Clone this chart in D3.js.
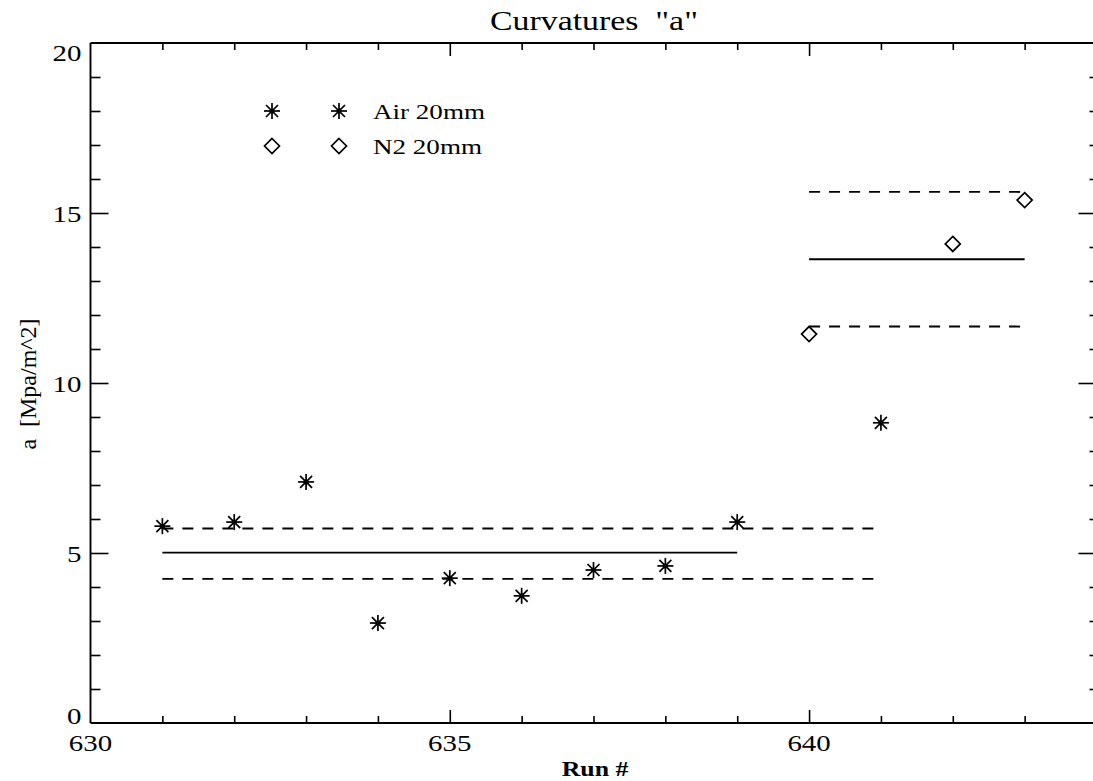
<!DOCTYPE html>
<html>
<head>
<meta charset="utf-8">
<script src="https://cdn.jsdelivr.net/npm/d3@7"></script>
<style>
  html, body { margin: 0; padding: 0; background: #fff; }
  svg { display: block; }
</style>
</head>
<body>
<svg id="chart" width="1093" height="781"></svg>
<script>
// Run numbers and curvature "a" values [Mpa/m^2]
const airRuns = [631, 632, 633, 634, 635, 636, 637, 638, 639, 641];
const airValues = [5.79, 5.91, 7.09, 2.94, 4.26, 3.74, 4.50, 4.62, 5.91, 8.83];
const n2Runs = [640, 642, 643];
const n2Values = [11.44, 14.09, 15.38];

// Mean and mean ± sigma bands: [value, fromRun, toRun]
const airMean = [5.01, 631, 639];
const airBand = [[5.72, 631, 641], [4.24, 631, 641]];
const n2Mean = [13.64, 640, 643];
const n2Band = [[15.62, 640, 643], [11.66, 640, 643]];

const xDomain = [630, 644];
const yDomain = [0, 20];
const xTickLabels = [630, 635, 640];
const yTickLabels = [0, 5, 10, 15, 20];

const legendItems = ["Air 20mm", "N2 20mm"];

const FONT = "'Liberation Serif', 'Times New Roman', Times, 'DejaVu Serif', serif";
const SX = 1.23; // glyphs of this plot are set slightly wide

const svg = d3.select("#chart");
const plot = { left: 90.5, top: 43, right: 1096.5, bottom: 723 };

const x = d3.scaleLinear().domain(xDomain).range([plot.left, plot.right]);
const y = d3.scaleLinear().domain(yDomain).range([plot.bottom, plot.top]);

const ink = "#000";

// Wide-set text helper
function label(parent, px, py, str, size, anchor, weight) {
  const g = parent.append("g").attr("transform", `translate(${px},${py}) scale(${SX},1)`);
  g.append("text")
    .attr("x", 0).attr("y", 0)
    .attr("text-anchor", anchor || "start")
    .style("font-family", FONT)
    .style("font-size", size + "px")
    .style("font-weight", weight || "normal")
    .attr("fill", ink)
    .attr("xml:space", "preserve")
    .text(str);
  return g;
}

// Frame lines
const frame = svg.append("g").attr("stroke", ink).attr("stroke-width", 1.9).attr("fill", "none");
frame.append("line").attr("x1", x(630)).attr("x2", x(644)).attr("y1", y(0)).attr("y2", y(0));
frame.append("line").attr("x1", x(630)).attr("x2", x(644)).attr("y1", y(20)).attr("y2", y(20));
frame.append("line").attr("x1", x(630)).attr("x2", x(630)).attr("y1", y(0)).attr("y2", y(20));
frame.append("line").attr("x1", x(644)).attr("x2", x(644)).attr("y1", y(0)).attr("y2", y(20));

// Axes: minor ticks every run / unit, longer major ticks every 5
const xMinor = d3.range(631, 644).filter(d => d % 5 !== 0);
const xMajor = [635, 640];
const yMinor = d3.range(1, 20).filter(d => d % 5 !== 0);
const yMajor = [5, 10, 15];

function tickAxis(axisFn, scale, values, size, transform) {
  const g = svg.append("g").attr("transform", transform)
    .call(axisFn(scale).tickValues(values).tickSize(size).tickFormat(""));
  g.select(".domain").remove();
  g.selectAll(".tick line").attr("stroke", ink).attr("stroke-width", 1.6);
  return g;
}
// bottom / top (ticks point inward)
tickAxis(d3.axisTop, x, xMinor, 7, `translate(0,${y(0)})`);
tickAxis(d3.axisTop, x, xMajor, 13, `translate(0,${y(0)})`);
tickAxis(d3.axisBottom, x, xMinor, 7, `translate(0,${y(20)})`);
tickAxis(d3.axisBottom, x, xMajor, 13, `translate(0,${y(20)})`);
// left / right
tickAxis(d3.axisRight, y, yMinor, 10, `translate(${x(630)},0)`);
tickAxis(d3.axisRight, y, yMajor, 18, `translate(${x(630)},0)`);
tickAxis(d3.axisLeft, y, yMinor, 7, `translate(${x(644)},0)`);
tickAxis(d3.axisLeft, y, yMajor, 18, `translate(${x(644)},0)`);

// Tick labels
const fmt = d3.format("d");
const tl = svg.append("g");
xTickLabels.forEach(v => label(tl, x(v), y(0) + 28, fmt(v), 23.5, "middle"));
yTickLabels.forEach(v => {
  // top label hangs below its tick, bottom label sits on it, others centred
  const dy = v === yDomain[1] ? 18 : (v === yDomain[0] ? 1 : 8.5);
  label(tl, x(630) - 9, y(v) + dy, fmt(v), 23.5, "end");
});

// Titles
label(svg, 594, 30, 'Curvatures  "a"', 27.5, "middle");
label(svg, 595, 776, "Run #", 21, "middle", "bold");
svg.append("text")
  .attr("transform", `translate(36,384) rotate(-90)`)
  .attr("text-anchor", "middle")
  .style("font-family", FONT).style("font-size", "24px")
  .attr("fill", ink)
  .attr("xml:space", "preserve")
  .text("a  [Mpa/m^2]");

// Mean lines (solid) and sigma bands (dashed)
const lines = svg.append("g").attr("stroke", ink).attr("fill", "none").attr("stroke-width", 1.9);
function hline(spec, dashed) {
  lines.append("line")
    .attr("x1", x(spec[1])).attr("x2", x(spec[2]))
    .attr("y1", y(spec[0])).attr("y2", y(spec[0]))
    .attr("stroke-dasharray", dashed ? "11,9" : null);
}
hline(airMean, false);
airBand.forEach(b => hline(b, true));
hline(n2Mean, false);
n2Band.forEach(b => hline(b, true));

// Symbols
function asterisk(g, cx, cy) {
  const r = 8, d = 6;
  const p = g.append("g").attr("stroke", ink).attr("stroke-width", 1.7);
  p.append("line").attr("x1", cx - r).attr("x2", cx + r).attr("y1", cy).attr("y2", cy);
  p.append("line").attr("x1", cx).attr("x2", cx).attr("y1", cy - r).attr("y2", cy + r);
  p.append("line").attr("x1", cx - d).attr("x2", cx + d).attr("y1", cy - d).attr("y2", cy + d);
  p.append("line").attr("x1", cx - d).attr("x2", cx + d).attr("y1", cy + d).attr("y2", cy - d);
  p.append("circle").attr("cx", cx).attr("cy", cy).attr("r", 2.5).attr("fill", ink).attr("stroke", "none");
}
function diamond(g, cx, cy) {
  const r = 7.5;
  g.append("path")
    .attr("d", `M${cx},${cy - r}L${cx + r},${cy}L${cx},${cy + r}L${cx - r},${cy}Z`)
    .attr("fill", "none").attr("stroke", ink).attr("stroke-width", 1.7);
}

const marks = svg.append("g");
airRuns.forEach((r, i) => asterisk(marks, x(r), y(airValues[i])));
n2Runs.forEach((r, i) => diamond(marks, x(r), y(n2Values[i])));

// Legend
const legend = svg.append("g");
const legendY = [111, 146];
const legendSym = [asterisk, diamond];
legendItems.forEach((name, i) => {
  legendSym[i](legend, 272, legendY[i]);
  legendSym[i](legend, 339, legendY[i]);
  label(legend, 373, legendY[i] + 8, name, 22, "start");
});
</script>
</body>
</html>
